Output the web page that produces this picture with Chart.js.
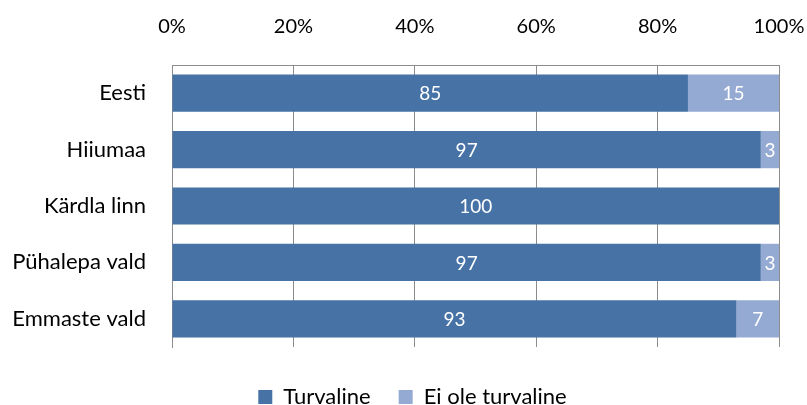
<!DOCTYPE html>
<html>
<head>
<meta charset="utf-8">
<script src="https://cdn.jsdelivr.net/npm/chart.js@4/dist/chart.umd.min.js"></script>
<style>
    html, body { margin: 0; padding: 0; background: #fff; overflow: hidden; }
    #wrap { width: 807px; height: 405px; position: relative; }
</style>
</head>
<body>
<div id="wrap"><canvas id="chart"></canvas></div>
<script>
// Chart data
const categories = ['Eesti', 'Hiiumaa', 'Kärdla linn', 'Pühalepa vald', 'Emmaste vald'];
const safeValues = [85, 97, 100, 97, 93];
const unsafeValues = [15, 3, 0, 3, 7];
const tickValues = [0, 20, 40, 60, 80, 100];

const FONT = 'Lato, "Open Sans", sans-serif';
const GRID = '#8c8c8c';

// Draw white value labels inside each bar segment
const barLabels = {
    id: 'barLabels',
    afterDatasetsDraw(chart) {
        const ctx = chart.ctx;
        ctx.save();
        ctx.fillStyle = '#ffffff';
        ctx.font = '19px ' + FONT;
        ctx.textAlign = 'center';
        ctx.textBaseline = 'middle';
        chart.data.datasets.forEach((ds, i) => {
            const meta = chart.getDatasetMeta(i);
            meta.data.forEach((bar, j) => {
                const v = ds.data[j];
                if (!v) return;
                const p = bar.getCenterPoint();
                ctx.fillText(String(v), p.x, p.y + 1);
            });
        });
        ctx.restore();
    }
};

// Legend sits a bit right of the canvas centre in the original
const legendShift = {
    id: 'legendShift',
    afterLayout(chart) {
        chart.legend.left += 23;
        chart.legend.right += 23;
    }
};

function initChart() {
    const ctx = document.getElementById('chart').getContext('2d');
    new Chart(ctx, {
        type: 'bar',
        data: {
            labels: categories,
            datasets: [{
                label: 'Turvaline',
                data: safeValues,
                backgroundColor: '#4672A6',
                barPercentage: 0.66,
                categoryPercentage: 1
            }, {
                label: 'Ei ole turvaline',
                data: unsafeValues,
                backgroundColor: '#95AAD3',
                barPercentage: 0.66,
                categoryPercentage: 1
            }]
        },
        options: {
            indexAxis: 'y',
            responsive: true,
            maintainAspectRatio: false,
            animation: false,
            layout: { padding: { top: 0, right: 28, left: 0, bottom: -13 } },
            plugins: {
                legend: {
                    position: 'bottom',
                    labels: {
                        boxWidth: 14,
                        boxHeight: 14,
                        padding: 28,
                        color: '#000',
                        font: { family: FONT, size: 22 }
                    }
                },
                tooltip: { enabled: false }
            },
            scales: {
                x: {
                    position: 'top',
                    stacked: true,
                    min: 0,
                    max: 100,
                    afterBuildTicks: axis => {
                        axis.ticks = tickValues.map(v => ({ value: v }));
                    },
                    afterFit: s => {
                        s.height = 65;
                        s.paddingLeft = 0;
                        s.paddingRight = 0;
                    },
                    ticks: {
                        callback: v => v + '%',
                        color: '#000',
                        padding: 26,
                        font: { family: FONT, size: 20 }
                    },
                    grid: { color: GRID, lineWidth: 1, drawTicks: false },
                    border: { display: true, color: GRID }
                },
                // empty spacer between plot and legend
                x2: {
                    type: 'linear',
                    position: 'bottom',
                    min: 0,
                    max: 1,
                    afterFit: s => {
                        s.height = 11;
                        s.paddingLeft = 0;
                        s.paddingRight = 0;
                    },
                    ticks: { display: false },
                    grid: { display: false, drawTicks: false },
                    border: { display: false }
                },
                y: {
                    stacked: true,
                    afterFit: s => {
                        s.width = 172;
                        s.paddingTop = 0;
                        s.paddingBottom = 0;
                    },
                    ticks: {
                        color: '#000',
                        padding: 26,
                        font: { family: FONT, size: 22 }
                    },
                    grid: { display: false, drawTicks: false },
                    border: { display: true, color: GRID }
                }
            }
        },
        plugins: [barLabels, legendShift]
    });
}

document.addEventListener('DOMContentLoaded', initChart);
</script>
</body>
</html>
